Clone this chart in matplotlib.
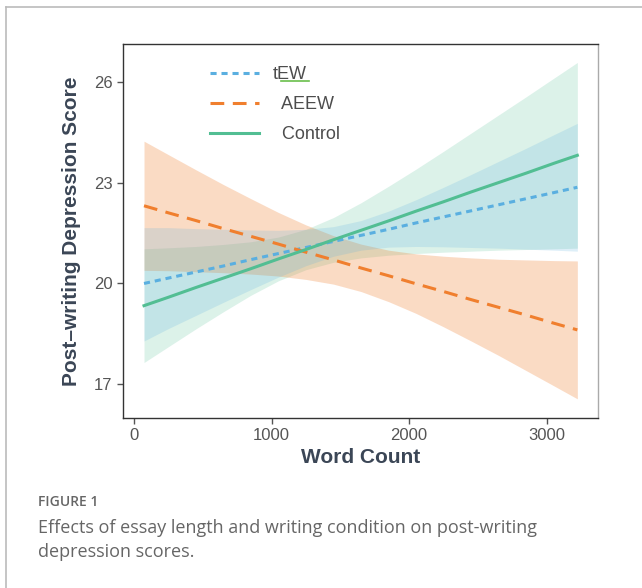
import matplotlib
matplotlib.use("Agg")
import matplotlib.pyplot as plt
from matplotlib.lines import Line2D

# word count positions where the fitted lines / bands were read
word_count = [73, 250, 450, 650, 850, 1050, 1250, 1450, 1650,
              1850, 2050, 2250, 2450, 2650, 2850, 3050, 3222]

tew_fit = [20.00, 20.16, 20.34, 20.52, 20.71, 20.89, 21.07, 21.25, 21.43,
           21.61, 21.80, 21.98, 22.16, 22.34, 22.52, 22.70, 22.86]
tew_lo = [18.29, 18.66, 19.05, 19.44, 19.82, 20.19, 20.53, 20.81, 20.99,
          21.08, 21.10, 21.09, 21.07, 21.05, 21.02, 20.99, 20.96]
tew_hi = [21.66, 21.66, 21.63, 21.61, 21.59, 21.58, 21.61, 21.69, 21.87,
          22.15, 22.49, 22.86, 23.24, 23.63, 24.02, 24.42, 24.76]

aeew_fit = [22.31, 22.10, 21.87, 21.63, 21.40, 21.17, 20.93, 20.70, 20.46,
            20.23, 19.99, 19.76, 19.52, 19.29, 19.06, 18.82, 18.62]
aeew_lo = [20.39, 20.38, 20.35, 20.32, 20.28, 20.22, 20.12, 19.98, 19.76,
           19.46, 19.11, 18.71, 18.29, 17.86, 17.41, 16.96, 16.57]
aeew_hi = [24.23, 23.83, 23.38, 22.94, 22.52, 22.11, 21.74, 21.42, 21.17,
           20.99, 20.88, 20.81, 20.76, 20.72, 20.70, 20.68, 20.67]

ctrl_fit = [19.34, 19.59, 19.88, 20.16, 20.44, 20.73, 21.01, 21.30, 21.58,
            21.86, 22.15, 22.43, 22.72, 23.00, 23.28, 23.57, 23.81]
ctrl_lo = [17.65, 18.12, 18.65, 19.16, 19.65, 20.08, 20.41, 20.63, 20.76,
           20.84, 20.89, 20.93, 20.96, 20.99, 21.01, 21.03, 21.05]
ctrl_hi = [21.03, 21.06, 21.10, 21.16, 21.24, 21.38, 21.61, 21.96, 22.40,
           22.89, 23.40, 23.93, 24.47, 25.01, 25.55, 26.10, 26.57]

labels = ["tEW", "  AEEW", "  Control"]
x_ticks = [0, 1000, 2000, 3000]
y_ticks = [17, 20, 23, 26]

c_tew = "#5AAFE0"
c_aeew = "#F07F2E"
c_ctrl = "#52BE93"

fig = plt.figure(figsize=(6.42, 5.88), dpi=100)
ax = fig.add_axes([0.1911, 0.2891, 0.7399, 0.6361])

ax.fill_between(word_count, ctrl_lo, ctrl_hi, color=c_ctrl, alpha=0.2, lw=0)
ax.fill_between(word_count, aeew_lo, aeew_hi, color=c_aeew, alpha=0.28, lw=0)
ax.fill_between(word_count, tew_lo, tew_hi, color=c_tew, alpha=0.2, lw=0)

l1, = ax.plot(word_count, tew_fit, color=c_tew, lw=2.2, dashes=(2, 1.6))
l2, = ax.plot(word_count, aeew_fit, color=c_aeew, lw=2.2, dashes=(4.5, 2.8))
l3, = ax.plot(word_count, ctrl_fit, color=c_ctrl, lw=2.2)

ax.set_xlim(-82, 3370)
ax.set_ylim(16.0, 27.12)
ax.set_xticks(x_ticks)
ax.set_yticks(y_ticks)
ax.tick_params(labelsize=12, labelcolor="#555555", color="#555555",
               length=4, width=1)
for lab in ax.get_xticklabels() + ax.get_yticklabels():
    lab.set_family("Liberation Sans")

for side in ["left", "bottom", "top"]:
    ax.spines[side].set_color("#333333")
    ax.spines[side].set_linewidth(1)
ax.spines["right"].set_color("#aaaaaa")
ax.spines["right"].set_linewidth(1)

ax.set_xlabel("Word Count", fontsize=15, fontweight="bold", color="#3b4656",
              family="Liberation Sans", labelpad=3)
ax.set_ylabel("Post\u2013writing Depression Score", fontsize=15, fontweight="bold",
              color="#3b4656", family="Liberation Sans", labelpad=9)

leg = ax.legend([l1, l2, l3], labels, loc="upper left", bbox_to_anchor=(0.15, 0.985),
                frameon=False, handlelength=2.7, handletextpad=0.75,
                labelspacing=0.72, prop={"family": "Liberation Sans", "size": 13})
for t in leg.get_texts():
    t.set_color("#4d4d4d")

# spell-check squiggle under "EW"
fig.add_artist(Line2D([281 / 642, 309 / 642], [1 - 81 / 588, 1 - 81 / 588],
                      color="#6abf4b", lw=1.2))

# outer panel border
fig.add_artist(Line2D([6 / 642, 6 / 642], [0, 1 - 7 / 588], color="#bbbbbb", lw=1.2))
fig.add_artist(Line2D([6 / 642, 1], [1 - 7 / 588, 1 - 7 / 588], color="#bbbbbb", lw=1.2))

fig.text(38 / 642, 1 - 502 / 588, "FIGURE 1", fontsize=10, color="#666666",
         family="Open Sans", va="center", fontweight="semibold")
fig.text(38 / 642, 1 - 528 / 588, "Effects of essay length and writing condition on post-writing",
         fontsize=13, color="#666666", family="Open Sans", va="center")
fig.text(38 / 642, 1 - 552 / 588, "depression scores.",
         fontsize=13, color="#666666", family="Open Sans", va="center")

fig.savefig("out.png", dpi=100)
